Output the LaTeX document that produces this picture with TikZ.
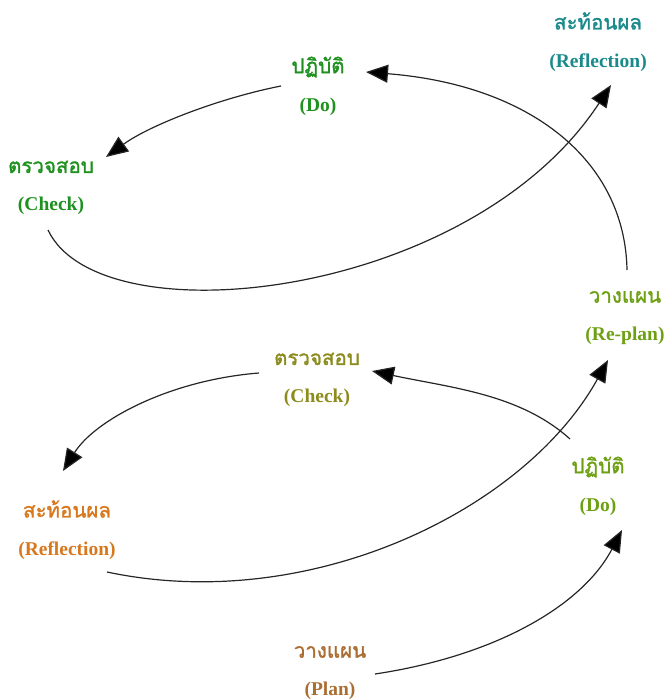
\documentclass[tikz,border=0pt]{standalone}
\usepackage{fontspec}
\setmainfont{Liberation Serif}
\newfontfamily\thaifont[Script=Thai,AutoFakeBold=1.5]{Loma}
\usetikzlibrary{arrows.meta}
\definecolor{cteal}{RGB}{26,138,138}
\definecolor{cgreen}{RGB}{30,145,30}
\definecolor{cyg}{RGB}{110,160,20}
\definecolor{colive}{RGB}{140,140,30}
\definecolor{corange}{RGB}{215,120,30}
\definecolor{cbrown}{RGB}{170,110,50}
\tikzset{
  lbl/.style={inner sep=0pt, align=center, font=\fontsize{19.5}{38}\selectfont\bfseries},
  conn/.style={line width=1.2pt, draw=black!85, -{Triangle[length=22pt,width=18pt,fill=black]}}
}
\newcommand{\thtxt}[1]{{\thaifont\bfseries\fontsize{20.5}{38}\selectfont #1}}
\begin{document}
\begin{tikzpicture}[x=1pt,y=-1pt]
\useasboundingbox (0,0) rectangle (668,700);
% labels
\node[lbl, text=cteal]   (refl1) at (598,42)  {\thtxt{สะท้อนผล}\\(Reflection)};
\node[lbl, text=cgreen]  (do1)   at (318,86)  {\thtxt{ปฏิบัติ}\\(Do)};
\node[lbl, text=cgreen]  (chk1)  at (51,188)  {\thtxt{ตรวจสอบ}\\(Check)};
\node[lbl, text=cyg]     (repl)  at (625,318) {\thtxt{วางแผน}\\(Re-plan)};
\node[lbl, text=colive]  (chk2)  at (317,380) {\thtxt{ตรวจสอบ}\\(Check)};
\node[lbl, text=cyg]     (do2)   at (598,486) {\thtxt{ปฏิบัติ}\\(Do)};
\node[lbl, text=corange] (refl2) at (67,530)  {\thtxt{สะท้อนผล}\\(Reflection)};
\node[lbl, text=cbrown]  (plan)  at (330,673) {\thtxt{วางแผน}\\(Plan)};
% connector end points
\coordinate (a1) at (375,674); \coordinate (b1) at (622,530);
\coordinate (a2) at (570,439); \coordinate (b2) at (372,371);
\coordinate (a3) at (259,373); \coordinate (b3) at (63,471);
\coordinate (a4) at (107,572); \coordinate (b4) at (608,360);
\coordinate (a5) at (627,270); \coordinate (b5) at (366,72);
\coordinate (a6) at (281,86);  \coordinate (b6) at (106,157);
\coordinate (a7) at (48,230);  \coordinate (b7) at (611,85);
% connectors
\draw[conn] (a1) .. controls (495,656) and (582,606) .. (b1);
\draw[conn] (a2) .. controls (520,394) and (452,388) .. (b2);
\draw[conn] (a3) .. controls (170,380) and (95,420) .. (b3);
\draw[conn] (a4) .. controls (310,615) and (525,510) .. (b4);
\draw[conn] (a5) .. controls (625,160) and (530,85) .. (b5);
\draw[conn] (a6) .. controls (220,98) and (150,125) .. (b6);
\draw[conn] (a7) .. controls (100,340) and (470,300) .. (b7);
\end{tikzpicture}
\end{document}
